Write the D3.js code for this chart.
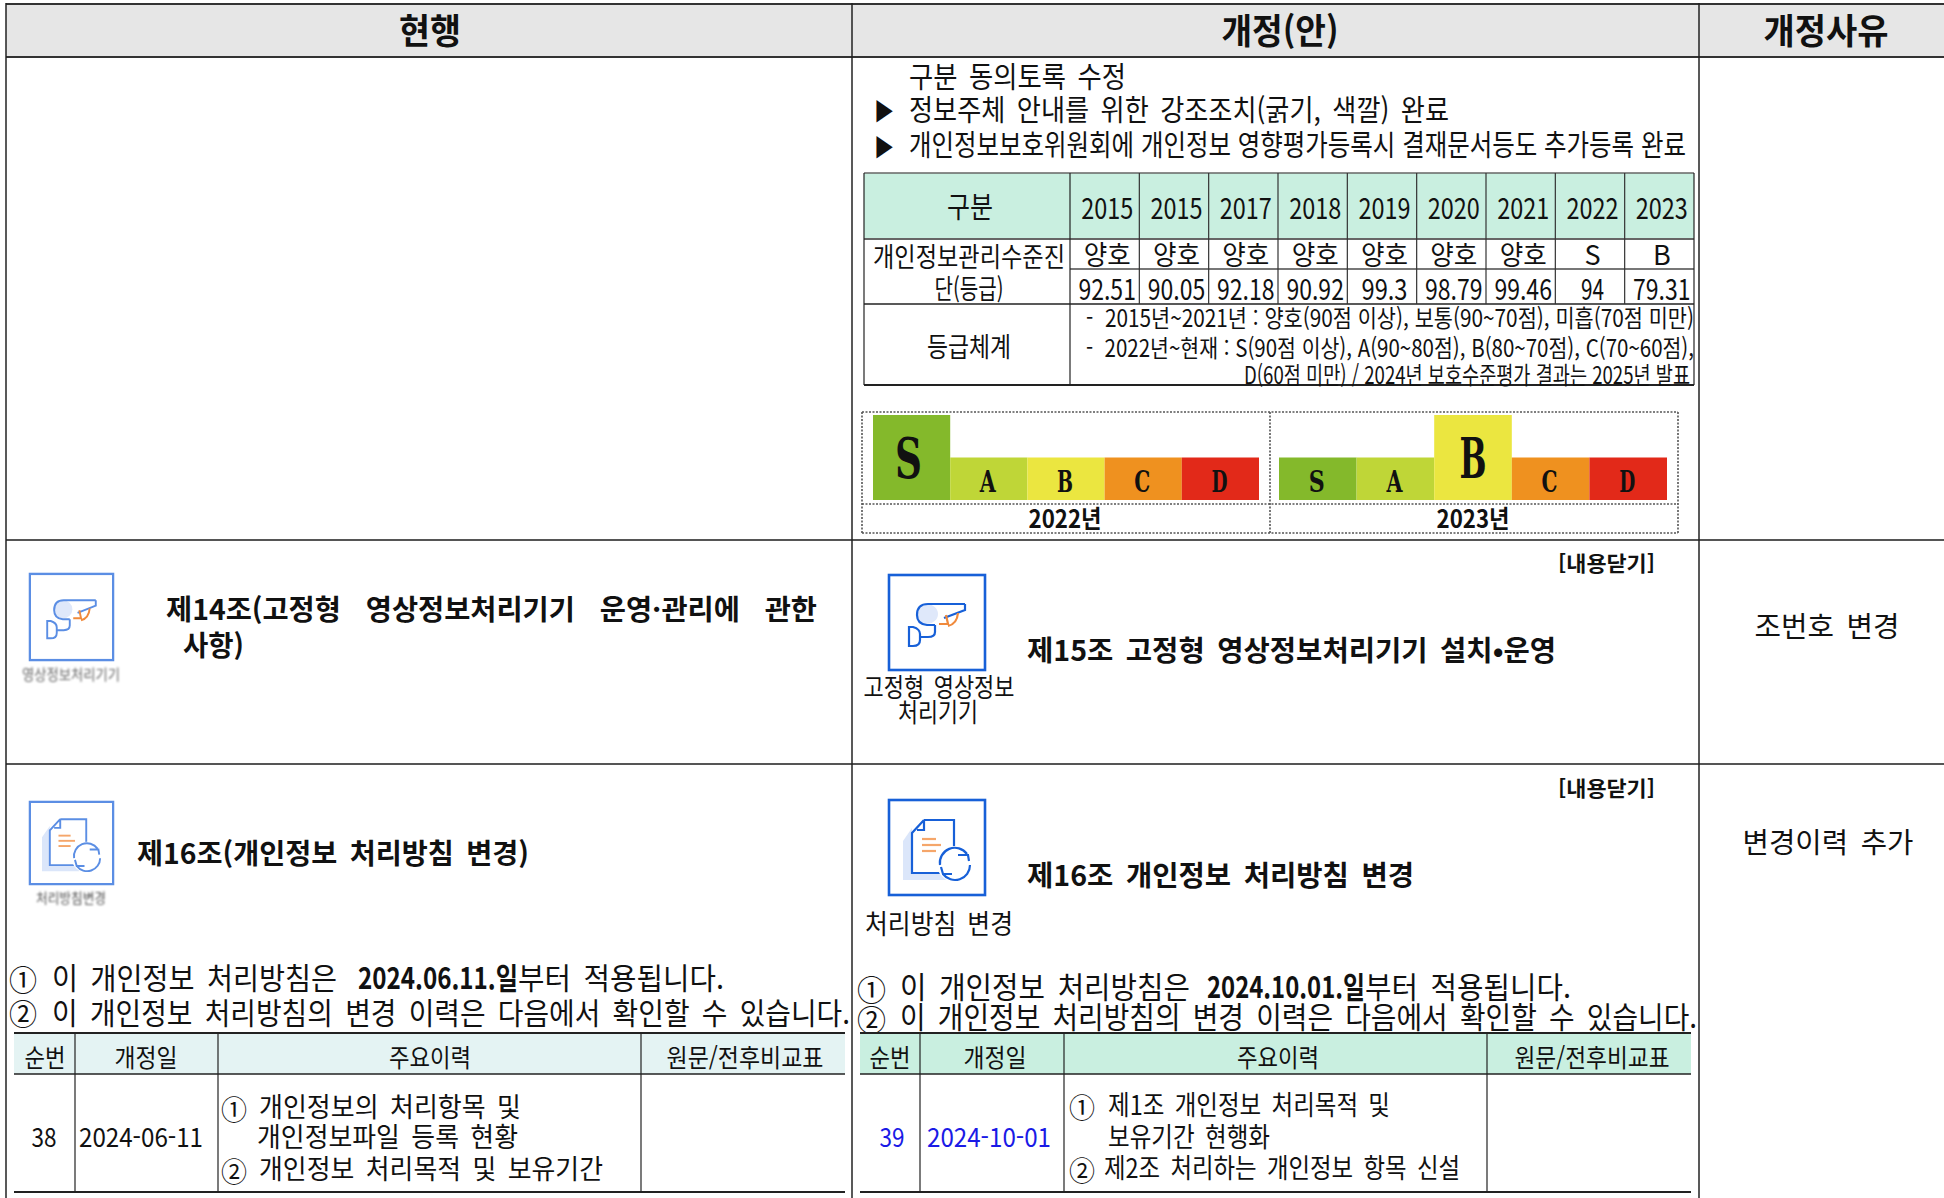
<!DOCTYPE html>
<html lang="ko">
<head>
<meta charset="utf-8">
<script src="https://cdn.jsdelivr.net/npm/d3@7"></script>
<style>
  html, body { margin: 0; background: #fff; }
  svg { display: block; }
  text { font-family: "Noto Sans CJK KR", "Noto Sans", sans-serif; fill: #111; dominant-baseline: central; white-space: pre; word-spacing: 0.16em; }
  text.serif { font-family: "DejaVu Serif", serif; }
  text.tight { word-spacing: 0; }
</style>
</head>
<body>
<svg id="page" width="1944" height="1198"></svg>
<script>
const years = ["2015", "2015", "2017", "2018", "2019", "2020", "2021", "2022", "2023"];
const yearGrades = ["양호", "양호", "양호", "양호", "양호", "양호", "양호", "S", "B"];
const yearScores = ["92.51", "90.05", "92.18", "90.92", "99.3", "98.79", "99.46", "94", "79.31"];

const grades = ["S", "A", "B", "C", "D"];
const gradeColors = ["#84b92b", "#bfd637", "#ebe640", "#ef911f", "#e22919"];
const levels2022 = [2, 1, 1, 1, 1];
const levels2023 = [1, 1, 2, 1, 1];

const columnTitles = ["현행", "개정(안)", "개정사유"];
const historyHeads = ["순번", "개정일", "주요이력", "원문/전후비교표"];

const svg = d3.select("#page");

// text helper, w squeezes the string to the width measured on the picture
function put(text, x, y, size, w, o = {}) {
  const t = (o.g || svg).append("text")
    .attr("x", x).attr("y", y - 1.5)
    .style("font-size", size + "px")
    .style("font-weight", o.bold ? 700 : 400)
    .style("text-anchor", o.anchor || "start")
    .text(text);
  if (w) t.attr("textLength", w).attr("lengthAdjust", "spacingAndGlyphs");
  if (o.fill) t.style("fill", o.fill);
  if (o.cls) t.attr("class", o.cls);
  return t;
}

function rule(x1, y1, x2, y2, color, width, dash) {
  return svg.append("line")
    .attr("x1", x1).attr("y1", y1).attr("x2", x2).attr("y2", y2)
    .attr("stroke", color).attr("stroke-width", width)
    .attr("stroke-dasharray", dash || null);
}

// page frame
svg.append("rect").attr("x", 6).attr("y", 4).attr("width", 1938).attr("height", 53).attr("fill", "#e6e6e6");
[4, 57].forEach(y => rule(6, y, 1944, y, "#333", 2));
[540, 764].forEach(y => rule(6, y, 1944, y, "#555", 2));
[6, 852, 1699].forEach(x => rule(x, 3, x, 1198, "#222", 1.5));

const titleX = [430, 1280, 1826];
const titleW = [62, 117, 125];
columnTitles.forEach((t, i) => put(t, titleX[i], 30, 35, titleW[i], { anchor: "middle", bold: true }));

// notes above the score table
put("구분 동의토록 수정", 909, 76, 29, 217);
put("▶", 874, 111, 24, 20);
put("정보주체 안내를 위한 강조조치(굵기, 색깔) 완료", 909, 109, 29, 540);
put("▶", 874, 147, 24, 20);
put("개인정보보호위원회에 개인정보 영향평가등록시 결재문서등도 추가등록 완료", 909, 144, 29, 777, { cls: "tight" });

// score table
const tb = { l: 864, m: 1070, r: 1694, top: 173, head: 239, mid: 269, row: 304, bot: 385 };
const yearX = d3.scaleBand().domain(d3.range(years.length)).range([tb.m, tb.r]);
svg.append("rect").attr("x", tb.l).attr("y", tb.top).attr("width", tb.r - tb.l).attr("height", tb.head - tb.top).attr("fill", "#c9efe0");
rule(tb.l, tb.top, tb.r, tb.top, "#666", 1.5);
rule(tb.l, tb.head, tb.r, tb.head, "#666", 2);
rule(tb.m, tb.mid, tb.r, tb.mid, "#777", 2);
rule(tb.l, tb.row, tb.r, tb.row, "#222", 1.5);
rule(tb.l, tb.bot, tb.r, tb.bot, "#222", 2);
[tb.l, tb.m, tb.r].forEach(x => rule(x, tb.top, x, tb.bot, "#222", 1.2));
yearX.domain().slice(1).forEach(i => rule(yearX(i), tb.top, yearX(i), tb.row, "#333", 1.2));

put("구분", 970, 206, 29, 46, { anchor: "middle" });
put("개인정보관리수준진", 969, 257, 27, 192, { anchor: "middle" });
put("단(등급)", 969, 289, 27, 69, { anchor: "middle" });
put("등급체계", 969, 347, 27, 84, { anchor: "middle" });

years.forEach((t, i) => {
  const cx = yearX(i) + yearX.bandwidth() / 2 + 2.5;
  put(t, cx, 207, 29, 52, { anchor: "middle" });
  put(yearGrades[i], cx, 255, 27, i < 7 ? 47 : null, { anchor: "middle" });
  put(yearScores[i], cx, 288, 29, yearScores[i].length * 11.5, { anchor: "middle" });
});

put("-  2015년~2021년 : 양호(90점 이상), 보통(90~70점), 미흡(70점 미만)", 1086, 318, 24, 608, { cls: "tight" });
put("-  2022년~현재 : S(90점 이상), A(90~80점), B(80~70점), C(70~60점),", 1086, 348, 24, 608, { cls: "tight" });
put("D(60점 미만) / 2024년 보호수준평가 결과는 2025년 발표", 1244, 375, 24, 446, { cls: "tight" });

// 2022, 2023 grade blocks
const boxDash = "2 1.5";
rule(862, 412, 1678, 412, "#555", 1.6, boxDash);
rule(862, 504, 1678, 504, "#555", 1.6, boxDash);
rule(862, 533, 1678, 533, "#555", 1.6, boxDash);
[862, 1270, 1678].forEach(x => rule(x, 412, x, 533, "#555", 1.6, boxDash));

const levelY = d3.scaleLinear().domain([0, 2]).range([500, 415]);

function gradeBlock(levels, x0, x1, yearLabel) {
  const x = d3.scaleBand().domain(grades).range([x0, x1]);
  const g = svg.append("g");
  g.selectAll("rect").data(grades).join("rect")
    .attr("x", d => x(d))
    .attr("y", (d, i) => levelY(levels[i]))
    .attr("width", x.bandwidth())
    .attr("height", (d, i) => levelY(0) - levelY(levels[i]))
    .attr("fill", (d, i) => gradeColors[i]);
  grades.forEach((d, i) => {
    const big = levels[i] === 2;
    const shift = big ? (d === "B" ? 0 : -3) : -1;
    put(d, x(d) + x.bandwidth() / 2 + shift, big ? 459 : 483, big ? 56 : 30, big ? 27 : 16,
      { anchor: "middle", cls: "serif", bold: true, g });
  });
  put(yearLabel, (x0 + x1) / 2 + (x0 < 1000 ? -1 : 0), 518, 25, 73, { anchor: "middle", bold: true });
}
gradeBlock(levels2022, 873, 1259, "2022년");
gradeBlock(levels2023, 1279, 1667, "2023년");

// icons, drawn in a 98x97 box
function iconBox(x, y, w, h, color, soft) {
  const g = svg.append("g").attr("transform", `translate(${x},${y}) scale(${w / 98},${h / 97})`);
  if (soft) g.style("filter", "blur(0.6px)");
  g.append("rect").attr("x", 1).attr("y", 1).attr("width", 96).attr("height", 95)
    .attr("fill", "#fff").attr("stroke", color).attr("stroke-width", 2.6);
  return g;
}

function cameraIcon(x, y, w, h, color, soft) {
  const g = iconBox(x, y, w, h, color, soft);
  g.append("ellipse").attr("cx", 39).attr("cy", 40).attr("rx", 11).attr("ry", 10).attr("fill", "#dfe8fa");
  g.append("path")
    .attr("d", "M77 30 H40 Q29 30 29 41 Q29 50 39 51 H47 M77 30 V36 L56 44 M47 51 V58 Q47 63 40 63 H32 M21 53 H25 Q32 55 32 60 V66 Q32 72 25 72 H21 Z")
    .attr("fill", "none").attr("stroke", color).attr("stroke-width", 2.2);
  g.append("path")
    .attr("d", "M58 41 L60 50 H51 M70 39 Q69 50 60 52")
    .attr("fill", "none").attr("stroke", "#f08a3c").attr("stroke-width", 2.2);
}

function docIcon(x, y, w, h, color, soft) {
  const g = iconBox(x, y, w, h, color, soft);
  g.append("path").attr("d", "M15 42 L24 29 V74 H58 V81 H15 Z").attr("fill", "#dbe6fa");
  g.append("path").attr("d", "M36 21 H66 V52 M36 21 L24 34 V74 H52 M36 21 V31 H29")
    .attr("fill", "none").attr("stroke", color).attr("stroke-width", 2.2);
  [40, 46, 52].forEach((ly, i) => g.append("line")
    .attr("x1", 34).attr("x2", i === 1 ? 53 : 48).attr("y1", ly).attr("y2", ly)
    .attr("stroke", "#f5a66a").attr("stroke-width", 2.2));
  g.append("circle").attr("cx", 67).attr("cy", 65).attr("r", 18).attr("fill", "#fff");
  g.append("path")
    .attr("d", "M52 66 A15 15 0 0 1 79 55 M81 62 L80 56 L70 56 M82 66 A15 15 0 0 1 55 75 M53 68 L55 75 L64 75")
    .attr("fill", "none").attr("stroke", color).attr("stroke-width", 2.2);
}

// second row
cameraIcon(29, 573, 85, 88, "#5b8ee4", true);
put("영상정보처리기기", 71, 675, 15, 98, { anchor: "middle", fill: "#666" }).style("filter", "blur(0.9px)");
put("제14조(고정형  영상정보처리기기  운영·관리에  관한", 166, 609, 28, 651, { bold: true });
put("사항)", 183, 645, 28, 61, { bold: true });

put("[내용닫기]", 1558, 563, 21, 97, { bold: true });
cameraIcon(888, 574, 98, 97, "#1760d8");
put("고정형 영상정보", 939, 687, 26, 151, { anchor: "middle" });
put("처리기기", 938, 712, 26, 80, { anchor: "middle" });
put("제15조 고정형 영상정보처리기기 설치•운영", 1027, 650, 28, 529, { bold: true });
put("조번호 변경", 1827, 626, 28, 145, { anchor: "middle" });

// third row
docIcon(29, 801, 85, 84, "#5b8ee4", true);
put("처리방침변경", 71, 898, 14, 70, { anchor: "middle", fill: "#555" }).style("filter", "blur(0.9px)");
put("제16조(개인정보 처리방침 변경)", 137, 853, 28, 392, { bold: true });

put("[내용닫기]", 1558, 788, 21, 97, { bold: true });
docIcon(888, 799, 98, 97, "#1760d8");
put("제16조 개인정보 처리방침 변경", 1027, 875, 28, 387, { bold: true });
put("처리방침 변경", 865, 924, 27, 148);
put("변경이력 추가", 1828, 842, 28, 171, { anchor: "middle" });

// applied date lines
put("①", 9, 979, 30, 28);
put("이 개인정보 처리방침은", 52, 977, 30, 285);
put("2024.06.11.일", 358, 977, 30, 160, { bold: true });
put("부터 적용됩니다.", 518, 977, 30, 206);
put("②", 9, 1013, 30, 28);
put("이 개인정보 처리방침의 변경 이력은 다음에서 확인할 수 있습니다.", 52, 1012, 30, 798);

put("①", 857, 989, 30, 29);
put("이 개인정보 처리방침은", 900, 986, 30, 290);
put("2024.10.01.일", 1207, 986, 30, 158, { bold: true });
put("부터 적용됩니다.", 1365, 986, 30, 206);
put("②", 857, 1019, 30, 29);
put("이 개인정보 처리방침의 변경 이력은 다음에서 확인할 수 있습니다.", 900, 1016, 30, 797);

// history tables
function historyTable(o) {
  svg.append("rect").attr("x", o.cols[0]).attr("y", 1033).attr("width", o.cols[4] - o.cols[0]).attr("height", 41).attr("fill", o.fill);
  [[1033, 2], [1074, 1.6], [1192, 2]].forEach(d => rule(o.cols[0], d[0], o.cols[4], d[0], "#222", d[1]));
  o.cols.slice(1, 4).forEach(x => rule(x, 1033, x, 1192, "#222", 1.2));
  historyHeads.forEach((t, i) => put(t, o.headX[i], 1057, 25, o.headW[i], { anchor: "middle" }));
  put(o.no, o.noX, 1137, 26, 25, { anchor: "middle", fill: o.ink });
  put(o.date, o.dateX, 1137, 26, o.dateW, { fill: o.ink });
  o.lines.forEach(l => {
    if (l.mark) put(l.mark, l.markX, l.y + 3, 27, 26);
    put(l.text, l.x, l.y, 27, l.w);
  });
}

historyTable({
  cols: [14, 75, 218, 641, 845],
  fill: "#e4f3f3",
  headX: [45, 146, 430, 745],
  headW: [41, 63, 82, 157],
  no: "38", noX: 44, date: "2024-06-11", dateX: 79, dateW: 124, ink: "#111",
  lines: [
    { mark: "①", markX: 221, x: 259, y: 1107, w: 262, text: "개인정보의 처리항목 및" },
    { x: 257, y: 1137, w: 261, text: "개인정보파일 등록 현황" },
    { mark: "②", markX: 221, x: 259, y: 1169, w: 344, text: "개인정보 처리목적 및 보유기간" }
  ]
});

historyTable({
  cols: [860, 920, 1064, 1487, 1691],
  fill: "#c9efe0",
  headX: [890, 995, 1278, 1592],
  headW: [41, 63, 82, 155],
  no: "39", noX: 892, date: "2024-10-01", dateX: 927, dateW: 124, ink: "#1a1ae6",
  lines: [
    { mark: "①", markX: 1069, x: 1108, y: 1105, w: 282, text: "제1조 개인정보 처리목적 및" },
    { x: 1108, y: 1137, w: 162, text: "보유기간 현행화" },
    { mark: "②", markX: 1069, x: 1104, y: 1168, w: 356, text: "제2조 처리하는 개인정보 항목 신설" }
  ]
});
</script>
</body>
</html>
